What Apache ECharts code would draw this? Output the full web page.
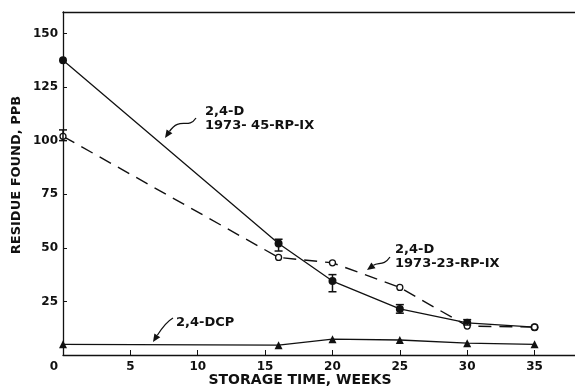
<!DOCTYPE html>
<html>
<head>
<meta charset="utf-8">
<script src="https://cdn.jsdelivr.net/npm/echarts@6/dist/echarts.min.js"></script>
<style>
html, body { margin: 0; padding: 0; background: #fff; }
#chart { width: 575px; height: 390px; }
</style>
</head>
<body>
<div id="chart"></div>
<script>
// storage time (weeks) and residues (ppb)
const weeks = [0, 16, 20, 25, 30, 35];
const lot45 = [137.5, 52, 34.5, 21.5, 15, 13];
const lot23 = [102, 45.5, 43, 31.5, 13.5, 13];
const dcp = [5, 4.6, 7.4, 7, 5.5, 5];
// error bars: [week, low, high]
const lot45Err = [[16, 48.5, 54], [20, 29.5, 37.5], [25, 19.5, 23.5], [30, 14, 16.5]];
const lot23Err = [[0, 100, 105]];

const font = '"DejaVu Sans", sans-serif';
const ink = '#111';

const pairs = (ys) => weeks.map((w, i) => [w, ys[i]]);

const errSeries = (data) => ({
  type: 'custom',
  silent: true,
  z: 5,
  data: data,
  renderItem: (params, api) => {
    const x = api.value(0);
    const lo = api.coord([x, api.value(1)]);
    const hi = api.coord([x, api.value(2)]);
    const w = 4;
    const st = { stroke: ink, lineWidth: 1.5 };
    return {
      type: 'group',
      children: [
        { type: 'line', shape: { x1: lo[0], y1: lo[1], x2: hi[0], y2: hi[1] }, style: st },
        { type: 'line', shape: { x1: lo[0] - w, y1: lo[1], x2: lo[0] + w, y2: lo[1] }, style: st },
        { type: 'line', shape: { x1: hi[0] - w, y1: hi[1], x2: hi[0] + w, y2: hi[1] }, style: st }
      ]
    };
  }
});

// wiggly arrow: start, two control points, tip
function arrow(p0, c1, c2, tip) {
  const dx = tip[0] - c2[0], dy = tip[1] - c2[1];
  const len = Math.sqrt(dx * dx + dy * dy);
  const ux = dx / len, uy = dy / len;
  const hl = 8, hw = 3.5;
  const bx = tip[0] - ux * hl, by = tip[1] - uy * hl;
  return [
    {
      type: 'bezierCurve',
      shape: { x1: p0[0], y1: p0[1], cpx1: c1[0], cpy1: c1[1], cpx2: c2[0], cpy2: c2[1], x2: bx, y2: by },
      style: { stroke: ink, lineWidth: 1.3, fill: null }
    },
    {
      type: 'polygon',
      shape: { points: [tip, [bx - uy * hw, by + ux * hw], [bx + uy * hw, by - ux * hw]] },
      style: { fill: ink }
    }
  ];
}

const label = (x, y, text, size, extra) => Object.assign({
  type: 'text', x: x, y: y,
  style: { text: text, font: 'bold ' + (size || 13) + 'px ' + font, fill: ink, textVerticalAlign: 'middle' }
}, extra || {});

const chart = echarts.init(document.getElementById('chart'));
chart.setOption({
  animation: false,
  backgroundColor: '#fff',
  grid: { left: 63, right: 0, top: 12, bottom: 35 },
  xAxis: [{
    type: 'value', min: 0, max: 38, interval: 5,
    axisLine: { lineStyle: { color: ink, width: 1.3 } },
    axisTick: { inside: true, length: 5, lineStyle: { color: ink } },
    axisLabel: {
      showMaxLabel: false, color: ink, fontFamily: font, fontWeight: 'bold', fontSize: 12, margin: 6,
      formatter: (v) => v === 0 ? '{z|0}' : String(v),
      rich: { z: { padding: [0, 18, 0, 0], color: ink, fontFamily: font, fontWeight: 'bold', fontSize: 12 } }
    },
    splitLine: { show: false }
  }, {
    type: 'value', position: 'top', min: 0, max: 38,
    axisLine: { show: true, onZero: false, lineStyle: { color: ink, width: 1.3 } },
    axisTick: { show: false }, axisLabel: { show: false }, splitLine: { show: false }
  }],
  yAxis: {
    type: 'value', min: 0, max: 160, interval: 25,
    axisLine: { show: true, lineStyle: { color: ink, width: 1.3 } },
    axisTick: { show: true, inside: true, length: 4, lineStyle: { color: ink } },
    axisLabel: { showMaxLabel: false, showMinLabel: false, color: ink, fontFamily: font, fontWeight: 'bold', fontSize: 12, margin: 5 },
    splitLine: { show: false }
  },
  series: [
    {
      name: '2,4-D 1973-45-RP-IX', type: 'line', data: pairs(lot45),
      symbol: 'circle', symbolSize: 8,
      lineStyle: { color: ink, width: 1.3 },
      itemStyle: { color: ink }
    },
    {
      name: '2,4-D 1973-23-RP-IX', type: 'line', data: pairs(lot23),
      symbol: 'circle', symbolSize: 6,
      lineStyle: { color: ink, width: 1.4, type: [13, 8] },
      itemStyle: { color: '#fff', borderColor: ink, borderWidth: 1.3 }
    },
    {
      name: '2,4-DCP', type: 'line', data: pairs(dcp),
      symbol: 'triangle', symbolSize: 8,
      lineStyle: { color: ink, width: 1.3 },
      itemStyle: { color: ink }
    },
    errSeries(lot45Err),
    errSeries(lot23Err)
  ],
  graphic: [
    label(17, 175, 'RESIDUE FOUND, PPB', 13, { rotation: Math.PI / 2, style: { text: 'RESIDUE FOUND, PPB', font: 'bold 13px ' + font, fill: ink, textAlign: 'center', textVerticalAlign: 'middle' } }),
    label(300, 380, 'STORAGE TIME, WEEKS', 14, { style: { text: 'STORAGE TIME, WEEKS', font: 'bold 14px ' + font, fill: ink, textAlign: 'center', textVerticalAlign: 'middle' } }),
    label(205, 112, '2,4-D'),
    label(205, 126, '1973- 45-RP-IX'),
    label(395, 250, '2,4-D'),
    label(395, 264, '1973-23-RP-IX'),
    label(176, 323, '2,4-DCP')
  ]
    .concat(arrow([196, 118], [188, 130], [180, 116], [165, 138]))
    .concat(arrow([390, 257], [384, 266], [378, 262], [367, 270]))
    .concat(arrow([173, 318], [166, 322], [162, 328], [153, 342]))
});
</script>
</body>
</html>
